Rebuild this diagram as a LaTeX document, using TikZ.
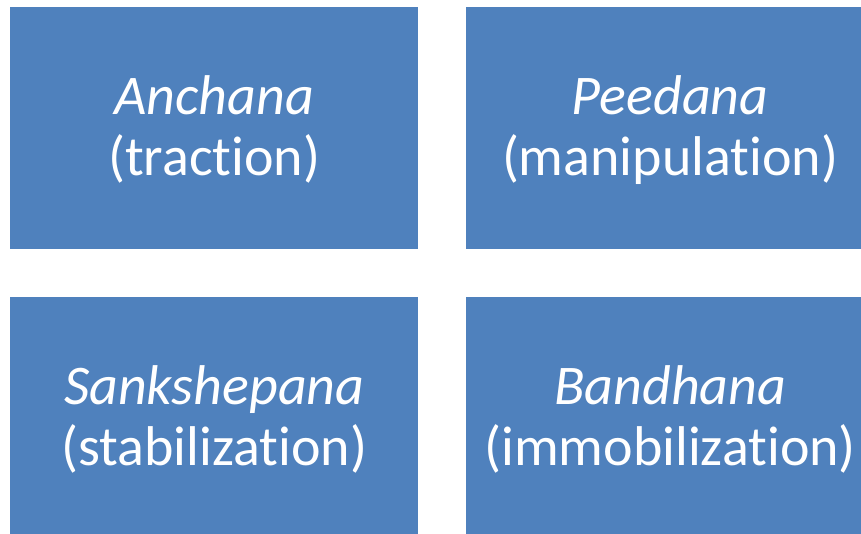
\documentclass[tikz,border=0pt]{standalone}
\usepackage{fontspec}
\setmainfont[Ligatures=NoCommon]{Carlito}
\definecolor{boxblue}{HTML}{4F81BD}
\begin{document}
\begin{tikzpicture}[x=1pt,y=-1pt,
  card/.style={fill=boxblue, draw=none, minimum width=408pt, minimum height=242pt, inner sep=0pt, anchor=north west},
  lbl/.style={text=white, align=center, font=\fontsize{56}{61}\selectfont}]
\clip (0,0) rectangle (861,534);
\useasboundingbox (0,0) rectangle (861,534);
\node[card] (a) at (10,7) {};
\node[card] (b) at (466,7) {};
\node[card] (c) at (10,297) {};
\node[card] (d) at (466,297) {};
\node[lbl] (ta) at ([yshift=-1.5pt]a.center) {\textit{Anchana}\\(traction)};
\node[lbl] (tb) at ([yshift=-1.5pt]b.center) {\textit{Peedana}\\(manipulation)};
\node[lbl] (tc) at ([yshift=-1.5pt]c.center) {\textit{Sankshepana}\\(stabilization)};
\node[lbl] (td) at ([yshift=-1.5pt]d.center) {\textit{Bandhana}\\(immobilization)};
\end{tikzpicture}
\end{document}
